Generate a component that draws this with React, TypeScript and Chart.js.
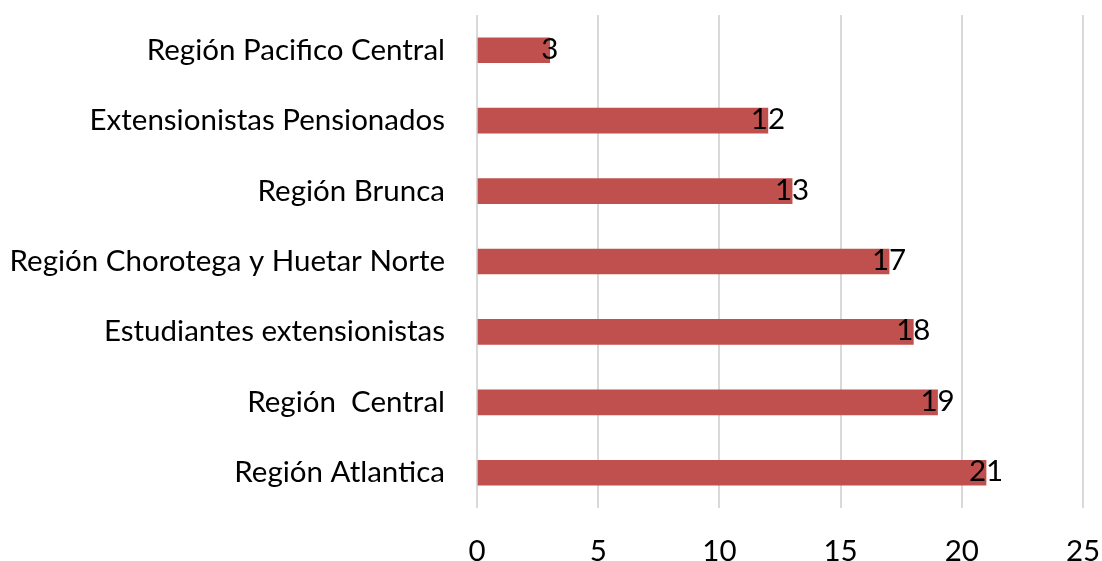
import React, { useEffect, useRef } from "react";
import { Chart, registerables } from "chart.js";

Chart.register(...registerables);

const categories = [
  "Región Pacifico Central",
  "Extensionistas Pensionados",
  "Región Brunca",
  "Región Chorotega y Huetar Norte",
  "Estudiantes extensionistas",
  "Región  Central",
  "Región Atlantica",
];
const values = [3, 12, 13, 17, 18, 19, 21];
const xTicks = [0, 5, 10, 15, 20, 25];

const FONT = "Lato, 'Open Sans', sans-serif";
const FS = 29.5;

const valueLabels = {
  id: "valueLabels",
  afterDatasetsDraw(chart: any) {
    const ctx = chart.ctx;
    const meta = chart.getDatasetMeta(0);
    ctx.save();
    ctx.font = `${FS}px ${FONT}`;
    ctx.fillStyle = "#000000";
    ctx.textAlign = "center";
    ctx.textBaseline = "middle";
    meta.data.forEach((el: any, i: number) => {
      ctx.fillText(String(values[i]), el.x, el.y - 1);
    });
    ctx.restore();
  },
};

const zeroPad = (axis: any) => {
  axis.paddingTop = 0;
  axis.paddingBottom = 0;
  axis.paddingLeft = 0;
  axis.paddingRight = 0;
};

export default function App() {
  const ref = useRef<HTMLCanvasElement | null>(null);
  useEffect(() => {
    if (!ref.current) return;
    const chart = new Chart(ref.current, {
      type: "bar",
      data: {
        labels: categories,
        datasets: [
          {
            data: values,
            backgroundColor: "#C0504D",
            barThickness: 25,
          },
        ],
      },
      options: {
        indexAxis: "y",
        animation: false,
        responsive: false,
        maintainAspectRatio: false,
        layout: { padding: { top: 15, right: 19, left: 0, bottom: 0 } },
        plugins: { legend: { display: false }, tooltip: { enabled: false } },
        scales: {
          x: {
            min: 0,
            max: 25,
            afterBuildTicks: (axis: any) => {
              axis.ticks = xTicks.map((v) => ({ value: v }));
            },
            grid: { color: "#D9D9D9", lineWidth: 2, drawTicks: false },
            border: { display: false },
            ticks: {
              color: "#000000",
              font: { family: FONT, size: FS },
              padding: 26,
              maxRotation: 0,
            },
            afterFit: (axis: any) => {
              axis.height = 53;
              zeroPad(axis);
            },
          },
          y: {
            grid: { display: false, drawTicks: false },
            border: { display: false },
            ticks: {
              color: "#000000",
              font: { family: FONT, size: FS },
              padding: 32,
            },
            afterFit: (axis: any) => {
              axis.width = 477;
              zeroPad(axis);
            },
          },
        },
      },
      plugins: [valueLabels],
    });
    return () => chart.destroy();
  }, []);
  return (
    <div style={{ position: "fixed", left: 0, top: 0, width: 1102, height: 561, background: "#fff" }}>
      <canvas ref={ref} width={1102} height={561} style={{ width: 1102, height: 561 }} />
    </div>
  );
}
